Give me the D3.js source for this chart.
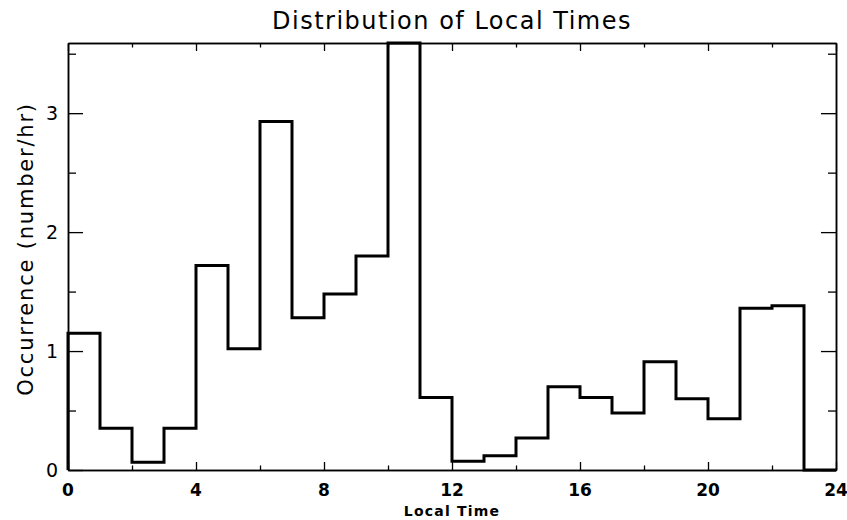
<!DOCTYPE html>
<html>
<head>
<meta charset="utf-8">
<script src="https://cdn.jsdelivr.net/npm/d3@7"></script>
<style>
  body { margin: 0; background: #fff; }
  svg { display: block; }
</style>
</head>
<body>
<div id="chart"></div>
<script>
// hourly bins 0..23, occurrence per hour
var hours = d3.range(0, 24);
var occurrence = [1.15, 0.35, 0.065, 0.35, 1.72, 1.02, 2.93, 1.28, 1.48, 1.80,
                  3.59, 0.61, 0.074, 0.12, 0.27, 0.70, 0.61, 0.48, 0.91, 0.60,
                  0.43, 1.36, 1.38, 0.0];
var xMajor = [0, 4, 8, 12, 16, 20, 24];
var xMinor = [2, 6, 10, 14, 18, 22];
var yMajor = [0, 1, 2, 3];
var yMinor = [0.5, 1.5, 2.5, 3.5];

var width = 847, height = 520;
var margin = {top: 43, right: 11, bottom: 50, left: 68};

var svg = d3.select("#chart").append("svg")
    .attr("width", width)
    .attr("height", height);

var x = d3.scaleLinear()
    .domain([0, 24])
    .range([margin.left, width - margin.right]);

var y = d3.scaleLinear()
    .domain([0, 3.59])
    .range([height - margin.bottom, margin.top]);

var fontFam = "'DejaVu Sans', 'Liberation Sans', sans-serif";

// histogram outline
var pts = [[0, 0]];
hours.forEach(function(h, i) {
  pts.push([h, occurrence[i]]);
  pts.push([h + 1, occurrence[i]]);
});
pts.push([24, 0]);

var line = d3.line().x(d => x(d[0])).y(d => y(d[1]));

// axes (box style)
function tickAxis(axisFn, scale, vals, len) {
  return axisFn(scale).tickValues(vals).tickSizeInner(len).tickSizeOuter(0).tickFormat("");
}

var gB = svg.append("g").attr("transform", "translate(0," + y(0) + ")");
gB.call(tickAxis(d3.axisTop, x, xMajor, 8));
gB.append("g").call(tickAxis(d3.axisTop, x, xMinor, 4.5));

var gT = svg.append("g").attr("transform", "translate(0," + y.range()[1] + ")");
gT.call(tickAxis(d3.axisBottom, x, xMajor, 8));
gT.append("g").call(tickAxis(d3.axisBottom, x, xMinor, 4.5));

var gL = svg.append("g").attr("transform", "translate(" + x(0) + ",0)");
gL.call(tickAxis(d3.axisRight, y, yMajor, 15));
gL.append("g").call(tickAxis(d3.axisRight, y, yMinor, 8));

var gR = svg.append("g").attr("transform", "translate(" + x(24) + ",0)");
gR.call(tickAxis(d3.axisLeft, y, yMajor, 15));
gR.append("g").call(tickAxis(d3.axisLeft, y, yMinor, 8));

svg.selectAll(".domain").attr("stroke", "#000").attr("stroke-width", 1.5);
svg.selectAll(".tick line").attr("stroke", "#000").attr("stroke-width", 1.3);

svg.append("path")
    .datum(pts)
    .attr("d", line)
    .attr("fill", "none")
    .attr("stroke", "#000")
    .attr("stroke-width", 3)
    .attr("stroke-linejoin", "miter");

// tick labels
svg.selectAll(".xlab")
    .data(xMajor)
    .join("text")
    .attr("x", d => x(d))
    .attr("y", 496)
    .attr("text-anchor", "middle")
    .style("font-family", fontFam)
    .style("font-size", "17px")
    .style("font-weight", "bold")
    .text(d => d);

svg.selectAll(".ylab")
    .data(yMajor)
    .join("text")
    .attr("x", 58)
    .attr("y", d => y(d) + 7)
    .attr("text-anchor", "end")
    .style("font-family", fontFam)
    .style("font-size", "19px")
    .text(d => d);

// titles
svg.append("text")
    .attr("x", x(12))
    .attr("y", 29)
    .attr("text-anchor", "middle")
    .style("font-family", fontFam)
    .style("font-size", "24px")
    .style("letter-spacing", "1.5px")
    .text("Distribution of Local Times");

svg.append("text")
    .attr("x", x(12))
    .attr("y", 516)
    .attr("text-anchor", "middle")
    .style("font-family", fontFam)
    .style("font-size", "14px")
    .style("font-weight", "bold")
    .style("letter-spacing", "1.2px")
    .text("Local Time");

svg.append("text")
    .attr("transform", "translate(33," + 249 + ") rotate(-90)")
    .attr("text-anchor", "middle")
    .style("font-family", fontFam)
    .style("font-size", "21px")
    .style("letter-spacing", "1.8px")
    .text("Occurrence (number/hr)");
</script>
</body>
</html>
